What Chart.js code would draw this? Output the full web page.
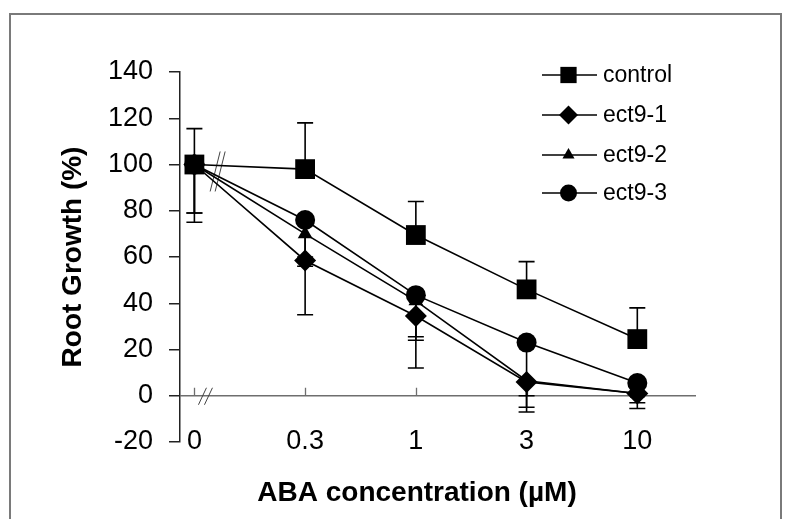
<!DOCTYPE html>
<html>
<head>
<meta charset="utf-8">
<script src="https://cdn.jsdelivr.net/npm/chart.js@4/dist/chart.umd.min.js"></script>
<style>
  html, body { margin: 0; padding: 0; background: #fff; }
  #wrap { width: 787px; height: 519px; position: relative; }
</style>
</head>
<body>
<div id="wrap"><canvas id="c" width="787" height="519"></canvas></div>
<script>
// ---- data ----
const categories = ['0', '0.3', '1', '3', '10'];
const seriesNames = ['control', 'ect9-1', 'ect9-2', 'ect9-3'];
const control = [100, 98, 69.5, 46, 24.5];
const ect91 = [100, 58.5, 34.5, 6, 1];
const ect92 = [100, 70, 41, 6.5, 1];
const ect93 = [100, 76, 43.5, 23, 5.5];
const controlErrPlus = [15.5, 20, 14.5, 12, 13.5];
const ect91ErrMinus = [25, 23.5, 22.5, 13, 6.5];
const ect92ErrMinus = [21, 10, 17, 11.5, 4];
const ect93ErrMinus = [21, 20, 18, 23, 4];
const yTicks = [-20, 0, 20, 40, 60, 80, 100, 120, 140];
const xTitle = 'ABA concentration (µM)';
const yTitle = 'Root Growth (%)';

const FONT = "'Liberation Sans', Arial, Helvetica, sans-serif";

function toXY(arr) { return arr.map((v, i) => ({ x: i, y: v })); }

const styles = [
  { pointStyle: 'rect', radius: 14, legendRadius: 11.5 },
  { pointStyle: 'rectRot', radius: 11, legendRadius: 9.5 },
  { pointStyle: 'triangle', radius: 8.5, legendRadius: 7 },
  { pointStyle: 'circle', radius: 10, legendRadius: 8.5 }
];
const seriesValues = [control, ect91, ect92, ect93];
const errors = [
  { dir: 1, vals: controlErrPlus },
  { dir: -1, vals: ect91ErrMinus },
  { dir: -1, vals: ect92ErrMinus },
  { dir: -1, vals: ect93ErrMinus }
];

function drawMarker(ctx, style, r, x, y) {
  ctx.beginPath();
  if (style === 'rect') {
    const s = Math.SQRT1_2 * r;
    ctx.rect(x - s, y - s, 2 * s, 2 * s);
  } else if (style === 'rectRot') {
    ctx.moveTo(x, y - r); ctx.lineTo(x + r, y); ctx.lineTo(x, y + r); ctx.lineTo(x - r, y); ctx.closePath();
  } else if (style === 'triangle') {
    for (let k = 0; k < 3; k++) {
      const a = k * 2 * Math.PI / 3;
      const px = x + Math.sin(a) * r, py = y - Math.cos(a) * r;
      if (k === 0) ctx.moveTo(px, py); else ctx.lineTo(px, py);
    }
    ctx.closePath();
  } else {
    ctx.arc(x, y, r, 0, Math.PI * 2);
  }
  ctx.fillStyle = '#000';
  ctx.fill();
}

const decorPlugin = {
  id: 'decor',
  beforeDraw(chart) {
    const ctx = chart.ctx;
    ctx.save();
    ctx.fillStyle = '#fff';
    ctx.fillRect(0, 0, chart.width, chart.height);
    ctx.strokeStyle = '#7a7a7a';
    ctx.lineWidth = 2;
    ctx.beginPath();
    ctx.moveTo(10, 530); ctx.lineTo(10, 14); ctx.lineTo(781, 14); ctx.lineTo(781, 530);
    ctx.stroke();
    ctx.restore();
  },
  beforeDatasetsDraw(chart) {
    const ctx = chart.ctx;
    const xs = chart.scales.x, ys = chart.scales.y;
    const y0 = ys.getPixelForValue(0);
    ctx.save();
    // small category ticks on zero line
    ctx.strokeStyle = '#6e6e6e';
    ctx.lineWidth = 1.3;
    categories.forEach((c, i) => {
      const px = Math.round(xs.getPixelForValue(i)) + 0.5;
      ctx.beginPath(); ctx.moveTo(px, y0); ctx.lineTo(px, y0 - 8); ctx.stroke();
    });
    // axis break marks on zero line
    const bx = xs.getPixelForValue(0.1);
    ctx.lineWidth = 1;
    ctx.strokeStyle = '#444';
    [[-3, 0], [3, 0]].forEach(([dx]) => {
      ctx.beginPath(); ctx.moveTo(bx + dx - 4, y0 + 9); ctx.lineTo(bx + dx + 4, y0 - 8); ctx.stroke();
    });
    // break marks on the control line
    const cx = xs.getPixelForValue(0.21);
    const cy = ys.getPixelForValue(control[0] + (control[1] - control[0]) * 0.21) + 6;
    [-2.5, 2.5].forEach(dx => {
      ctx.beginPath(); ctx.moveTo(cx + dx - 5, cy + 20); ctx.lineTo(cx + dx + 5, cy - 20); ctx.stroke();
    });
    // error bars
    ctx.strokeStyle = '#000';
    ctx.lineWidth = 1.6;
    errors.forEach((e, si) => {
      seriesValues[si].forEach((v, i) => {
        const px = xs.getPixelForValue(i);
        const py1 = ys.getPixelForValue(v);
        const py2 = ys.getPixelForValue(v + e.dir * e.vals[i]);
        ctx.beginPath();
        ctx.moveTo(px, py1); ctx.lineTo(px, py2);
        ctx.moveTo(px - 8, py2); ctx.lineTo(px + 8, py2);
        ctx.stroke();
      });
    });
    ctx.restore();
  },
  afterDraw(chart) {
    const ctx = chart.ctx;
    const xs = chart.scales.x;
    ctx.save();
    // x category labels (drawn at the bottom row like the reference)
    ctx.fillStyle = '#000';
    ctx.font = '27px ' + FONT;
    ctx.textAlign = 'center';
    ctx.textBaseline = 'middle';
    categories.forEach((c, i) => {
      ctx.fillText(c, xs.getPixelForValue(i), 442);
    });
    // x title
    ctx.font = 'bold 28px ' + FONT;
    ctx.fillText(xTitle, 417, 493);
    // legend
    const ly = [75, 115, 155, 193];
    ctx.font = '23px ' + FONT;
    ctx.textAlign = 'left';
    seriesNames.forEach((n, i) => {
      const y = ly[i];
      ctx.strokeStyle = '#000';
      ctx.lineWidth = 1.6;
      ctx.beginPath(); ctx.moveTo(542, y); ctx.lineTo(597, y); ctx.stroke();
      drawMarker(ctx, styles[i].pointStyle, styles[i].legendRadius, 568.5, y);
      ctx.fillStyle = '#000';
      ctx.fillText(n, 603, y + 1);
    });
    ctx.restore();
  }
};

const datasets = seriesNames.map((n, i) => ({
  label: n,
  data: toXY(seriesValues[i]),
  borderColor: '#000',
  backgroundColor: '#000',
  borderWidth: 1.6,
  tension: 0,
  pointStyle: styles[i].pointStyle,
  pointRadius: styles[i].radius,
  pointHoverRadius: styles[i].radius,
  pointBackgroundColor: '#000',
  pointBorderColor: '#000',
  pointBorderWidth: 0
}));

new Chart(document.getElementById('c'), {
  type: 'line',
  data: { datasets },
  plugins: [decorPlugin],
  options: {
    responsive: false,
    animation: false,
    devicePixelRatio: 1,
    layout: { padding: { left: 0, top: 72, right: 91, bottom: 0 } },
    plugins: { legend: { display: false }, tooltip: { enabled: false } },
    scales: {
      x: {
        type: 'linear',
        min: -0.13,
        max: 4.53,
        grid: { display: false },
        border: { display: false },
        ticks: { display: false },
        afterFit(s) { s.height = 77; }
      },
      y: {
        type: 'linear',
        min: -20,
        max: 140,
        afterBuildTicks(s) { s.ticks = yTicks.map(v => ({ value: v })); },
        afterFit(s) { s.width = 180; },
        ticks: {
          color: '#000',
          padding: 16,
          font: { family: FONT, size: 27 }
        },
        grid: {
          drawOnChartArea: true,
          drawTicks: true,
          tickLength: 11,
          color: ctx => (ctx.tick && ctx.tick.value === 0) ? '#6e6e6e' : 'rgba(0,0,0,0)',
          tickColor: '#222',
          lineWidth: 1.5
        },
        border: { display: true, color: '#222', width: 1.5 },
        title: {
          display: true,
          text: yTitle,
          color: '#000',
          font: { family: FONT, size: 28, weight: 'bold' },
          padding: { top: 56, bottom: 0 }
        }
      }
    }
  }
});
</script>
</body>
</html>
